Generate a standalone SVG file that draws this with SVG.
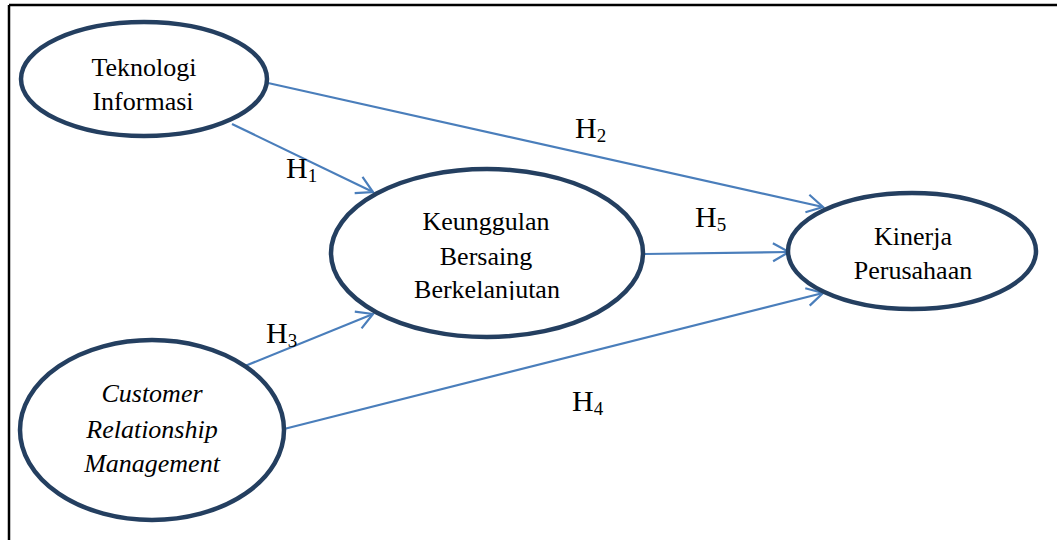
<svg xmlns="http://www.w3.org/2000/svg" width="1057" height="540" viewBox="0 0 1057 540">
<style>
.node{fill:#fff;stroke:#243f60;stroke-width:4.5}
.t{font-family:"Liberation Serif","Times New Roman",serif;font-size:26px;fill:#000;text-anchor:middle}
.i{font-style:italic}
.h{font-family:"Liberation Serif","Times New Roman",serif;font-size:30px;fill:#000}
.sub{font-size:19px}
.edge{stroke:#4a7ebb;stroke-width:2.2;fill:none;marker-end:url(#arr)}
.frame{stroke:#000;stroke-width:2.5;fill:none}
</style>
<defs>
<marker id="arr" markerUnits="userSpaceOnUse" markerWidth="24" markerHeight="24" viewBox="-20 -12 24 24" refX="0" refY="0" orient="auto">
<path d="M-16,-9 L0,0 L-16,9" fill="none" stroke="#4a7ebb" stroke-width="2.2"/>
</marker>
<clipPath id="c1"><rect x="320" y="160" width="340" height="140"/></clipPath>
<clipPath id="c2"><rect x="780" y="185" width="270" height="95"/></clipPath>
</defs>
<rect width="1057" height="540" fill="#fff"/>
<path class="frame" d="M9,5 H1057 M9,5 V540"/>
<g id="connectors">
<line class="edge" x1="232" y1="124" x2="373" y2="192"/>
<line class="edge" x1="268" y1="83" x2="823" y2="207"/>
<line class="edge" x1="645" y1="254" x2="789" y2="252"/>
<line class="edge" x1="245" y1="366" x2="373" y2="314"/>
<line class="edge" x1="284" y1="429" x2="823" y2="293"/>
</g>
<g id="labels">
<text class="h" x="286" y="178">H<tspan class="sub" dy="4">1</tspan></text>
<text class="h" x="575" y="138">H<tspan class="sub" dy="4">2</tspan></text>
<text class="h" x="266" y="343">H<tspan class="sub" dy="4">3</tspan></text>
<text class="h" x="572" y="411">H<tspan class="sub" dy="4">4</tspan></text>
<text class="h" x="695" y="227">H<tspan class="sub" dy="4">5</tspan></text>
</g>
<g id="teknologi">
<ellipse class="node" cx="144" cy="79" rx="123" ry="57"/>
<text class="t" x="144" y="76">Teknologi</text>
<text class="t" x="143" y="110">Informasi</text>
</g>
<g id="keunggulan">
<ellipse class="node" cx="487" cy="253" rx="156" ry="84"/>
<g clip-path="url(#c1)">
<text class="t" x="486" y="230">Keunggulan</text>
<text class="t" x="486" y="265">Bersaing</text>
<text class="t" x="487" y="298">Berkelanjutan</text>
</g>
</g>
<g id="kinerja">
<ellipse class="node" cx="912" cy="251" rx="124" ry="58"/>
<g clip-path="url(#c2)">
<text class="t" x="913" y="245">Kinerja</text>
<text class="t" x="913" y="279">Perusahaan</text>
</g>
</g>
<g id="crm">
<ellipse class="node" cx="152" cy="430" rx="132" ry="90"/>
<text class="t i" x="152" y="402">Customer</text>
<text class="t i" x="152" y="438">Relationship</text>
<text class="t i" x="152" y="472">Management</text>
</g>
</svg>
